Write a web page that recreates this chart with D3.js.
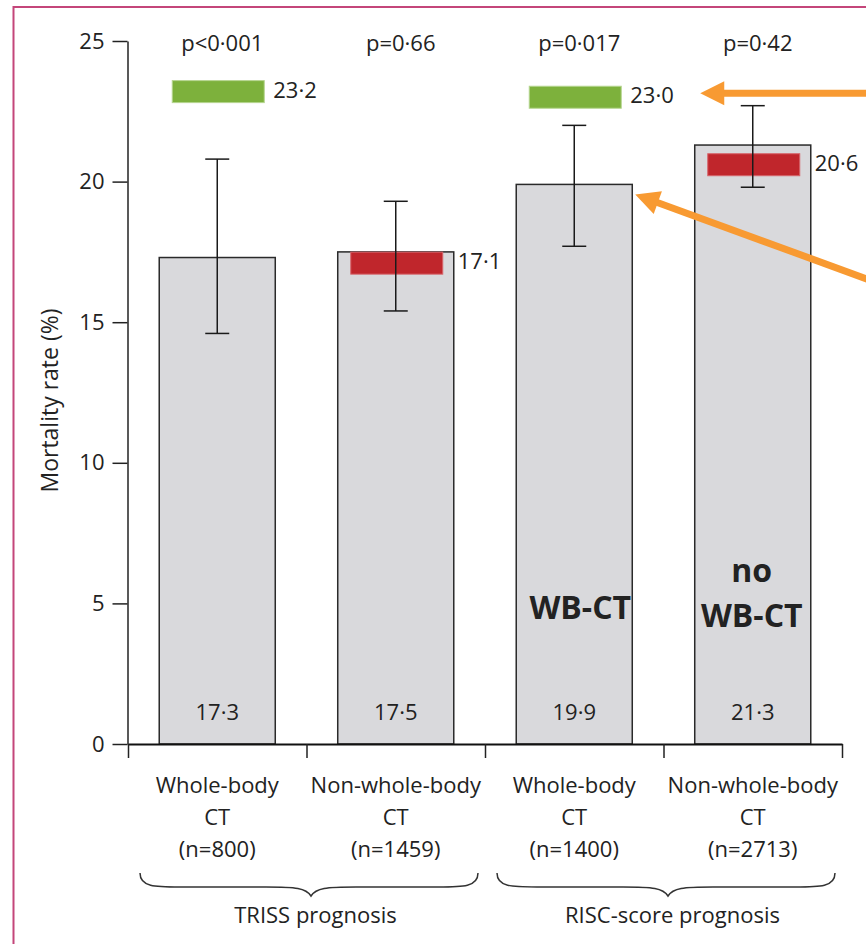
<!DOCTYPE html>
<html>
<head>
<meta charset="utf-8">
<script src="https://cdn.jsdelivr.net/npm/d3@7"></script>
<style>
  body { margin: 0; background: #fff; }
  text { font-family: "Open Sans", sans-serif; fill: #222; }
</style>
</head>
<body>
<svg id="plot" width="866" height="944"></svg>
<script>
let groups = ["triss-wb", "triss-nwb", "risc-wb", "risc-nwb"];
let groupLines = [
  ["Whole-body", "CT", "(n=800)"],
  ["Non-whole-body", "CT", "(n=1459)"],
  ["Whole-body", "CT", "(n=1400)"],
  ["Non-whole-body", "CT", "(n=2713)"]
];
let mortality = [17.3, 17.5, 19.9, 21.3];
let ciLow = [14.6, 15.4, 17.7, 19.8];
let ciHigh = [20.8, 19.3, 22.0, 22.7];
let predicted = [23.2, 17.1, 23.0, 20.6];
let predictedKind = ["over", "under", "over", "under"];
let pValues = ["p<0·001", "p=0·66", "p=0·017", "p=0·42"];
let prognosis = ["TRISS prognosis", "RISC-score prognosis"];
let yTicks = [0, 5, 10, 15, 20, 25];
let callouts = [null, null, ["WB-CT"], ["no", "WB-CT"]];

const width = 866, height = 944;
const margin = {top: 41, left: 128, right: 24, bottom: 200};
const fmt = v => d3.format(".1f")(v).replace(".", "·");

let markerColour = d3.scaleOrdinal()
    .domain(["over", "under"])
    .range(["#7db13c", "#c0262c"]);

let markerEdge = d3.scaleOrdinal()
    .domain(["over", "under"])
    .range(["#b5d58f", "#d7646a"]);

let svg = d3.select("#plot");

// pink frame around the figure
svg.append("rect")
    .attr("x", 13.5).attr("y", 7)
    .attr("width", 900).attr("height", 1000)
    .attr("fill", "none")
    .attr("stroke", "#c4467a")
    .attr("stroke-width", 2);

let x = d3.scaleBand()
    .domain(groups)
    .range([margin.left, width - margin.right])
    .paddingInner(0.35)
    .paddingOuter(0.175);

let edges = d3.scaleLinear()
    .domain([0, groups.length])
    .range([margin.left, width - margin.right]);

let y = d3.scaleLinear()
    .domain([0, 25])
    .range([744, margin.top]);

let cx = i => x(groups[i]) + x.bandwidth() / 2;

let yAxis = g => g
    .attr("transform", `translate(${margin.left - 0.5}, 0)`)
    .call(d3.axisLeft(y)
            .tickValues(yTicks)
            .tickSize(15)
            .tickPadding(8)
            .tickSizeOuter(0))
    .call(g => g.select(".domain").attr("stroke", "#222").attr("stroke-width", 1.5))
    .call(g => g.selectAll(".tick line").attr("stroke", "#222").attr("stroke-width", 1.5))
    .call(g => g.selectAll(".tick text")
              .style("font", "22px 'Open Sans', sans-serif")
              .attr("fill", "#222"));

let xAxis = g => g
    .attr("transform", `translate(0, ${y(0)})`)
    .call(d3.axisBottom(edges)
            .tickValues(d3.range(groups.length + 1))
            .tickFormat("")
            .tickSize(14)
            .tickSizeOuter(0))
    .call(g => g.select(".domain").attr("stroke", "#111").attr("stroke-width", 2))
    .call(g => g.selectAll(".tick line").attr("stroke", "#222").attr("stroke-width", 1.5));

svg.append("g").call(yAxis);

svg.append("text")
    .attr("transform", `translate(58, ${(y(0) + y(25)) / 2 + 8}) rotate(-90)`)
    .attr("text-anchor", "middle")
    .style("font-size", "23px")
    .text("Mortality rate (%)");

// bars
svg.append("g")
  .selectAll("rect")
  .data(groups)
  .join("rect")
    .attr("x", d => x(d))
    .attr("y", (d, i) => y(mortality[i]))
    .attr("width", x.bandwidth())
    .attr("height", (d, i) => y(0) - y(mortality[i]))
    .attr("fill", "#d9d9dc")
    .attr("stroke", "#2a2a2a")
    .attr("stroke-width", 1.5);

svg.append("g").call(xAxis);

// predicted mortality markers
svg.append("g")
  .selectAll("rect")
  .data(groups)
  .join("rect")
    .attr("x", (d, i) => cx(i) - 45)
    .attr("y", (d, i) => y(predicted[i]) - 11)
    .attr("width", 92)
    .attr("height", 22)
    .attr("fill", (d, i) => markerColour(predictedKind[i]))
    .attr("stroke", (d, i) => markerEdge(predictedKind[i]))
    .attr("stroke-width", 1);

svg.append("g")
  .selectAll("text")
  .data(groups)
  .join("text")
    .attr("x", (d, i) => predictedKind[i] === "over" ? cx(i) + 56 : x(d) + x.bandwidth() + 4)
    .attr("y", (d, i) => y(predicted[i]) + 6)
    .style("font-size", "22px")
    .text((d, i) => fmt(predicted[i]));

// error bars
let err = svg.append("g")
    .attr("stroke", "#1a1a1a")
    .attr("stroke-width", 1.5);

err.selectAll("line.v")
  .data(groups)
  .join("line")
    .attr("class", "v")
    .attr("x1", (d, i) => cx(i)).attr("x2", (d, i) => cx(i))
    .attr("y1", (d, i) => y(ciLow[i])).attr("y2", (d, i) => y(ciHigh[i]));

err.selectAll("line.hi")
  .data(groups)
  .join("line")
    .attr("class", "hi")
    .attr("x1", (d, i) => cx(i) - 12).attr("x2", (d, i) => cx(i) + 12)
    .attr("y1", (d, i) => y(ciHigh[i])).attr("y2", (d, i) => y(ciHigh[i]));

err.selectAll("line.lo")
  .data(groups)
  .join("line")
    .attr("class", "lo")
    .attr("x1", (d, i) => cx(i) - 12).attr("x2", (d, i) => cx(i) + 12)
    .attr("y1", (d, i) => y(ciLow[i])).attr("y2", (d, i) => y(ciLow[i]));

// values inside bars
svg.append("g")
  .selectAll("text")
  .data(groups)
  .join("text")
    .attr("x", (d, i) => cx(i))
    .attr("y", y(0) - 24)
    .attr("text-anchor", "middle")
    .style("font-size", "22px")
    .text((d, i) => fmt(mortality[i]));

// p values
svg.append("g")
  .selectAll("text")
  .data(groups)
  .join("text")
    .attr("x", (d, i) => cx(i) + 5)
    .attr("y", 51)
    .attr("text-anchor", "middle")
    .style("font-size", "22px")
    .text((d, i) => pValues[i]);

// category labels
let cat = svg.append("g")
  .selectAll("text")
  .data(groups)
  .join("text")
    .attr("text-anchor", "middle")
    .style("font-size", "22px");

cat.selectAll("tspan")
  .data((d, i) => groupLines[i].map(t => [cx(i), t]))
  .join("tspan")
    .attr("x", d => d[0])
    .attr("y", (d, j) => y(0) + 49 + j * 32)
    .text(d => d[1]);

// curly braces under each prognosis pair
function brace(x0, x1, top) {
  let xm = (x0 + x1) / 2 + 2, mid = top + 14, tip = top + 23;
  return `M${x0},${top} C${x0},${mid} ${x0 + 15},${mid} ${x0 + 40},${mid}`
       + ` L${xm - 45},${mid} C${xm - 15},${mid} ${xm - 5},${mid + 1} ${xm},${tip}`
       + ` C${xm + 5},${mid + 1} ${xm + 15},${mid} ${xm + 45},${mid}`
       + ` L${x1 - 40},${mid} C${x1 - 15},${mid} ${x1},${mid} ${x1},${top}`;
}

svg.append("g")
  .selectAll("path")
  .data(prognosis)
  .join("path")
    .attr("d", (d, k) => brace(edges(2 * k) + 12, edges(2 * k + 2) - 7, y(0) + 129))
    .attr("fill", "none")
    .attr("stroke", "#333")
    .attr("stroke-width", 1.5);

svg.append("g")
  .selectAll("text")
  .data(prognosis)
  .join("text")
    .attr("x", (d, k) => (edges(2 * k) + edges(2 * k + 2)) / 2 + 9)
    .attr("y", y(0) + 179)
    .attr("text-anchor", "middle")
    .style("font-size", "22px")
    .text(d => d);

// bold call-outs inside the RISC bars
callouts.forEach((lines, i) => {
  if (!lines) return;
  let last = y(0) - (lines.length > 1 ? 117 : 125);
  lines.forEach((t, j) => {
    svg.append("text")
        .attr("x", cx(i) + (lines.length > 1 ? -1 : 6))
        .attr("y", last - (lines.length - 1 - j) * 45)
        .attr("text-anchor", "middle")
        .style("font", "bold 32px 'Open Sans', sans-serif")
        .attr("fill", "#000")
        .text(t);
  });
});

// orange arrows
let arrows = svg.append("g");

function arrow(tip, tail) {
  let dx = tail[0] - tip[0], dy = tail[1] - tip[1];
  let len = Math.hypot(dx, dy), ux = dx / len, uy = dy / len;
  let bx = tip[0] + ux * 24, by = tip[1] + uy * 24;
  arrows.append("line")
      .attr("x1", bx - ux * 2).attr("y1", by - uy * 2)
      .attr("x2", tail[0]).attr("y2", tail[1])
      .attr("stroke", "#f89a32")
      .attr("stroke-width", 7);
  arrows.append("path")
      .attr("d", `M${tip[0]},${tip[1]} L${bx - uy * 12},${by + ux * 12} L${bx + uy * 12},${by - ux * 12} Z`)
      .attr("fill", "#f89a32");
}

let barRight = x(groups[2]) + x.bandwidth();
arrow([barRight + 68, y(predicted[2]) - 4], [width + 10, y(predicted[2]) - 4]);
arrow([barRight + 3, y(mortality[2]) + 10], [barRight + 3 + 241, y(mortality[2]) + 10 + 88]);
</script>
</body>
</html>
